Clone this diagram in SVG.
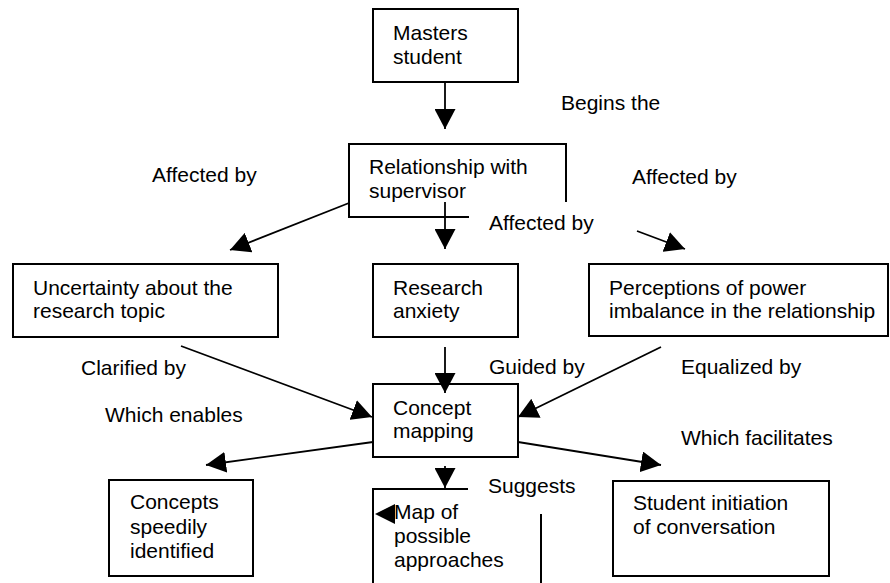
<svg xmlns="http://www.w3.org/2000/svg" width="890" height="583" viewBox="0 0 890 583">
<style>
text{font-family:"Liberation Sans",Arial,sans-serif;font-size:21px;fill:#000}
.box{fill:none;stroke:#000;stroke-width:2}
.ln{fill:none;stroke:#000;stroke-width:1.8;marker-end:url(#ah)}
</style>
<defs>
<marker id="ah" markerUnits="userSpaceOnUse" markerWidth="20" markerHeight="21" refX="20" refY="10.5" orient="auto" viewBox="0 0 20 21">
<path d="M0,0 L20,10.5 L0,21 z" fill="#000"/>
</marker>
</defs>
<rect width="890" height="583" fill="#fff"/>
<g id="connectors">
<line class="ln" x1="445" y1="82" x2="445" y2="129"/>
<line class="ln" x1="445" y1="202" x2="445" y2="249"/>
<line class="ln" x1="349" y1="203" x2="230" y2="250"/>
<line class="ln" x1="637" y1="231" x2="685" y2="249"/>
<line class="ln" x1="181" y1="346" x2="372" y2="417"/>
<line class="ln" x1="445" y1="347" x2="445" y2="393"/>
<line class="ln" x1="661" y1="347" x2="518" y2="417"/>
<line class="ln" x1="373" y1="442" x2="206" y2="465"/>
<line class="ln" x1="445" y1="466" x2="445" y2="488"/>
<line class="ln" x1="518" y1="442" x2="661" y2="465"/>
<path d="M375,514 L395,504 L395,524 z" fill="#000"/>
</g>
<g id="labels">
<text x="561" y="110">Begins the</text>
<text x="152" y="182">Affected by</text>
<text x="489" y="230">Affected by</text>
<text x="632" y="184">Affected by</text>
<text x="81" y="375">Clarified by</text>
<text x="489" y="374">Guided by</text>
<text x="681" y="374">Equalized by</text>
<text x="105" y="422">Which enables</text>
<text x="681" y="445">Which facilitates</text>
<text x="488" y="493">Suggests</text>
</g>
<g id="masters">
<rect class="box" x="373" y="9" width="145" height="73"/>
<text x="393" y="40">Masters</text>
<text x="393" y="64">student</text>
</g>
<g id="relationship">
<path class="box" d="M469,217 H349 V144 H566 V202"/>
<text x="369" y="174">Relationship with</text>
<text x="369" y="198">supervisor</text>
</g>
<g id="uncertainty">
<rect class="box" x="13" y="264" width="265" height="73"/>
<text x="33" y="295">Uncertainty about the</text>
<text x="33" y="318">research topic</text>
</g>
<g id="anxiety">
<rect class="box" x="373" y="264" width="145" height="73"/>
<text x="393" y="295">Research</text>
<text x="393" y="318">anxiety</text>
</g>
<g id="perceptions">
<rect class="box" x="589" y="264" width="299" height="72"/>
<text x="609" y="295">Perceptions of power</text>
<text x="609" y="318">imbalance in the relationship</text>
</g>
<g id="concept">
<rect class="box" x="373" y="384" width="145" height="73"/>
<text x="393" y="415">Concept</text>
<text x="393" y="438">mapping</text>
</g>
<g id="concepts">
<rect class="box" x="109" y="480" width="144" height="96"/>
<text x="130" y="509">Concepts</text>
<text x="130" y="534">speedily</text>
<text x="130" y="558">identified</text>
</g>
<g id="map">
<path class="box" d="M468,489 H373 V583 M541,514 V583"/>
<text x="394" y="519">Map of</text>
<text x="394" y="543">possible</text>
<text x="394" y="567">approaches</text>
</g>
<g id="student">
<rect class="box" x="613" y="481" width="216" height="95"/>
<text x="633" y="510">Student initiation</text>
<text x="633" y="534">of conversation</text>
</g>
</svg>
